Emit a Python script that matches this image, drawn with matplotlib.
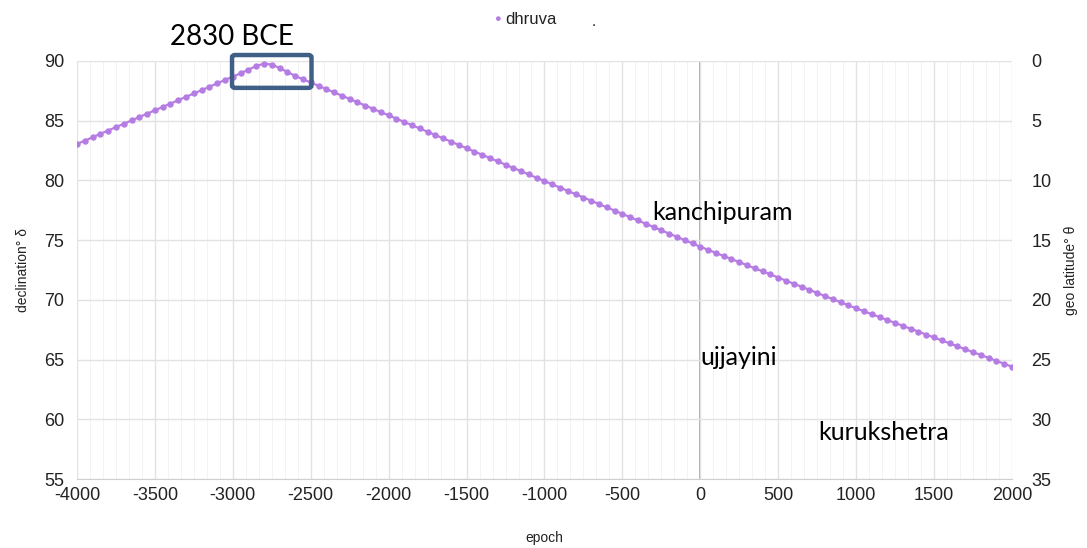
import matplotlib
matplotlib.use("Agg")
import matplotlib.pyplot as plt
from matplotlib.patches import FancyBboxPatch
from matplotlib.ticker import MultipleLocator

plt.rcParams["axes.unicode_minus"] = False
plt.rcParams["font.family"] = ["Liberation Sans", "DejaVu Sans"]

# === DATA ===
epochs = list(range(-4000, 2001, 50))
declination = [
    83.05, 83.33, 83.61, 83.90, 84.18, 84.46, 84.74, 85.02, 85.31, 85.59,
    85.87, 86.15, 86.43, 86.72, 87.00, 87.28, 87.56, 87.84, 88.13, 88.41,
    88.69, 88.97, 89.27, 89.58, 89.78, 89.70, 89.42, 89.08, 88.76, 88.47,
    88.20, 87.92, 87.65, 87.37, 87.10, 86.82, 86.55, 86.27, 86.00, 85.72,
    85.45, 85.17, 84.90, 84.62, 84.35, 84.07, 83.80, 83.52, 83.25, 82.97,
    82.70, 82.42, 82.15, 81.87, 81.60, 81.32, 81.05, 80.77, 80.50, 80.22,
    79.95, 79.67, 79.40, 79.12, 78.85, 78.57, 78.30, 78.02, 77.75, 77.47,
    77.20, 76.92, 76.65, 76.37, 76.10, 75.82, 75.55, 75.27, 75.00, 74.72,
    74.45, 74.19, 73.93, 73.67, 73.42, 73.16, 72.90, 72.64, 72.39, 72.13,
    71.87, 71.61, 71.35, 71.10, 70.84, 70.58, 70.32, 70.06, 69.81, 69.55,
    69.29, 69.05, 68.80, 68.56, 68.31, 68.07, 67.82, 67.58, 67.34, 67.09,
    66.85, 66.60, 66.36, 66.11, 65.87, 65.62, 65.38, 65.14, 64.89, 64.65,
    64.40,
]
series_name = "dhruva"
x_ticks = list(range(-4000, 2001, 500))
left_ticks = list(range(55, 91, 5))
right_ticks = list(range(0, 36, 5))
place_names = ["kanchipuram", "ujjayini", "kurukshetra"]
place_x = [-310, 0, 755]
place_y = [77.35, 65.2, 58.9]
peak_label = "2830 BCE"

# === STYLE ===
PURPLE = "#b57de3"
BOX_BLUE = "#3f5f86"
GRID = "#e2e2e2"
MINOR_GRID = "#f3f3f3"
TEXT = "#222222"
TICK_FS = 13
TITLE_FS = 10
NOTE_FONT = ["Lato", "DejaVu Sans"]

fig = plt.figure(figsize=(10.87, 5.48), dpi=100)
ax = fig.add_axes([0.0708, 0.1259, 0.8602, 0.7628])

ax.plot(epochs, declination, color=PURPLE, lw=1.6, marker="o", ms=3.6,
        mec=PURPLE, mfc=PURPLE, zorder=3)

ax.set_xlim(-4000, 2000)
ax.set_ylim(55, 90)
ax.set_xticks(x_ticks)
ax.set_yticks(left_ticks)
ax.xaxis.set_minor_locator(MultipleLocator(500 / 6))
ax.grid(True, which="major", color=GRID, lw=1.0, zorder=0)
ax.grid(True, which="minor", axis="x", color=MINOR_GRID, lw=0.7, zorder=0)
ax.axvline(0, color="#9a9a9a", lw=1.2, zorder=1)
for side in ("top", "right", "left"):
    ax.spines[side].set_visible(False)
ax.spines["bottom"].set_color("#cfcfcf")
ax.tick_params(axis="both", which="both", length=0, labelsize=TICK_FS, colors=TEXT)
ax.tick_params(axis="y", pad=9)
ax.tick_params(axis="x", pad=6)
ax.set_xlabel("epoch", fontsize=TITLE_FS, color=TEXT)
ax.xaxis.set_label_coords(0.5, -0.125)
ax.set_ylabel("declination° δ", fontsize=TITLE_FS, color=TEXT)
ax.yaxis.set_label_coords(-0.05, 0.5)

rax = ax.twinx()
rax.set_ylim(35, 0)
rax.set_yticks(right_ticks)
for side in ("top", "right", "left", "bottom"):
    rax.spines[side].set_visible(False)
rax.tick_params(axis="y", length=0, labelsize=TICK_FS, colors=TEXT, pad=14)
rax.set_ylabel("geo latitude° θ", fontsize=TITLE_FS, color=TEXT, rotation=90)
rax.yaxis.set_label_coords(1.056, 0.5)

# legend
fig.text(0.4575, 0.965, "●", color=PURPLE, fontsize=8, ha="center", va="center")
fig.text(0.4645, 0.964, series_name, fontsize=12, ha="left", va="center", color=TEXT)
fig.text(0.544, 0.960, ".", fontsize=11, ha="left", va="center", color=TEXT)

# annotations
box = FancyBboxPatch((-3005, 87.75), 510, 2.75, boxstyle="round,pad=0,rounding_size=20",
                     fill=False, ec=BOX_BLUE, lw=3.2, clip_on=False, zorder=4,
                     mutation_aspect=0.01)
ax.add_patch(box)
ax.text(-3400, 90.9, peak_label, fontsize=20, family=NOTE_FONT, ha="left",
        va="bottom", color="black", clip_on=False)
for name, xx, yy in zip(place_names, place_x, place_y):
    ax.text(xx, yy, name, fontsize=18, family=NOTE_FONT, ha="left", va="center",
            color="black", zorder=5)

fig.savefig("out.png", dpi=100, facecolor="white")
